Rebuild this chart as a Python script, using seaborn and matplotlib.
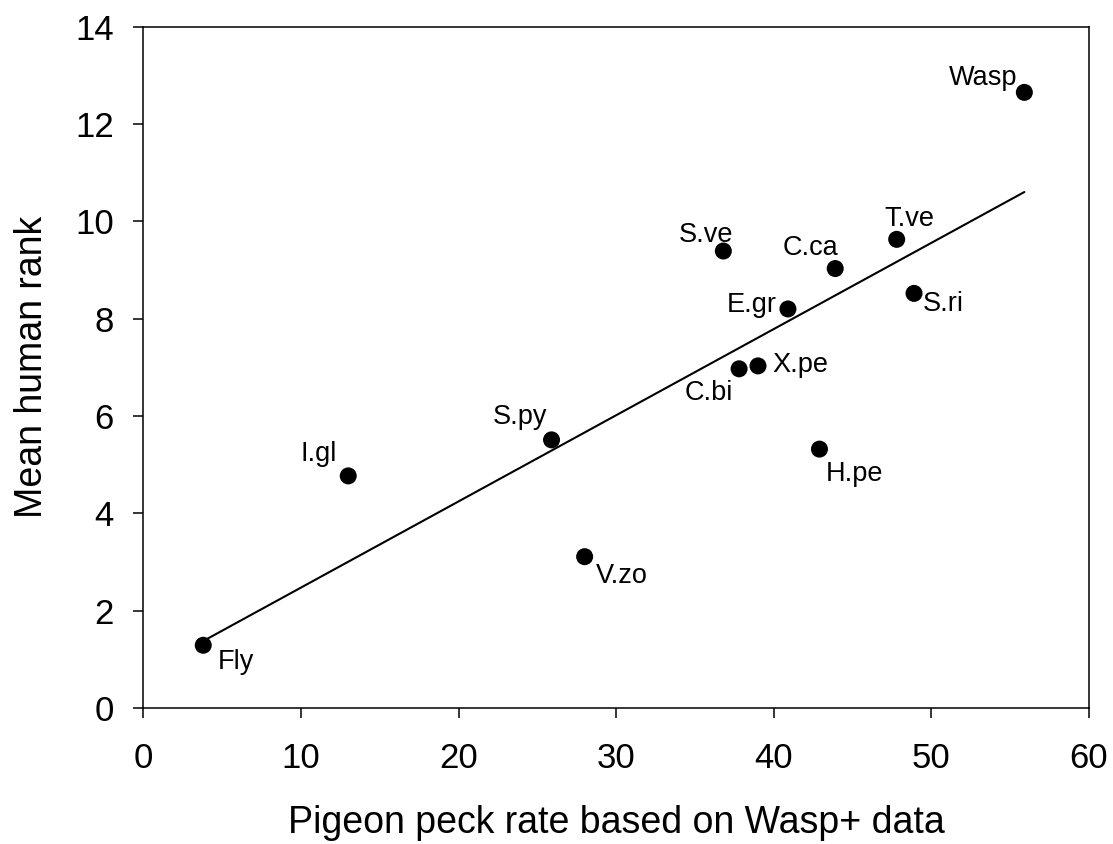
import numpy as np
import pandas as pd
import matplotlib
matplotlib.use("Agg")
import matplotlib.pyplot as plt
import seaborn as sns

# values
species = ["Fly", "I.gl", "S.py", "V.zo", "S.ve", "C.bi", "X.pe", "E.gr",
           "C.ca", "H.pe", "T.ve", "S.ri", "Wasp"]
peck_rate = [3.8, 13.0, 25.9, 28.0, 36.8, 37.8, 39.0, 40.9,
             43.9, 42.9, 47.8, 48.9, 55.9]
human_rank = [1.29, 4.77, 5.51, 3.11, 9.39, 6.97, 7.03, 8.20,
              9.03, 5.32, 9.63, 8.52, 12.65]

# label placement: (dx px, dy px, ha)
label_pos = {
    "Fly": (15, -24, "left"),
    "I.gl": (-11, 15, "right"),
    "S.py": (-4, 16, "right"),
    "V.zo": (11, -26, "left"),
    "S.ve": (10, 9, "right"),
    "C.bi": (-6, -31, "right"),
    "X.pe": (14, -6, "left"),
    "E.gr": (-11, -3, "right"),
    "C.ca": (3, 14, "right"),
    "H.pe": (6, -32, "left"),
    "T.ve": (-12, 13, "left"),
    "S.ri": (9, -18, "left"),
    "Wasp": (-7, 7, "right"),
}

df = pd.DataFrame({"species": species, "peck": peck_rate, "rank": human_rank})

sns.set_style("ticks")
plt.rcParams["font.family"] = ["Liberation Sans", "DejaVu Sans"]
plt.rcParams["text.color"] = "black"
plt.rcParams["axes.labelcolor"] = "black"

fig = plt.figure(figsize=(11.13, 8.44), dpi=100)
ax = fig.add_axes([0.1288, 0.1611, 0.8496, 0.8073])

sns.regplot(data=df, x="peck", y="rank", ax=ax, ci=None, truncate=True,
            scatter_kws={"s": 150, "color": "black", "alpha": 1,
                         "edgecolor": "none", "zorder": 3},
            line_kws={"color": "black", "lw": 1.5, "zorder": 2})

for name, x, y in zip(species, peck_rate, human_rank):
    dx, dy, ha = label_pos[name]
    ax.annotate(name, (x, y), xytext=(dx, dy), textcoords="offset pixels",
                ha=ha, va="baseline", fontsize=19.5, color="black")

ax.set_xlim(0, 60)
ax.set_ylim(0, 14)
ax.set_xticks(np.arange(0, 61, 10))
ax.set_yticks(np.arange(0, 15, 2))
ax.set_xlabel("Pigeon peck rate based on Wasp+ data", fontsize=27, labelpad=22)
ax.set_ylabel("Mean human rank", fontsize=27, labelpad=18)
ax.tick_params(axis="both", direction="out", length=7.2, width=1.1,
               labelsize=25, color="black", labelcolor="black")
ax.tick_params(axis="x", pad=17)
ax.tick_params(axis="y", pad=14)
for sp in ax.spines.values():
    sp.set_linewidth(1.1)
    sp.set_color("black")

fig.savefig("out.png", dpi=100)
